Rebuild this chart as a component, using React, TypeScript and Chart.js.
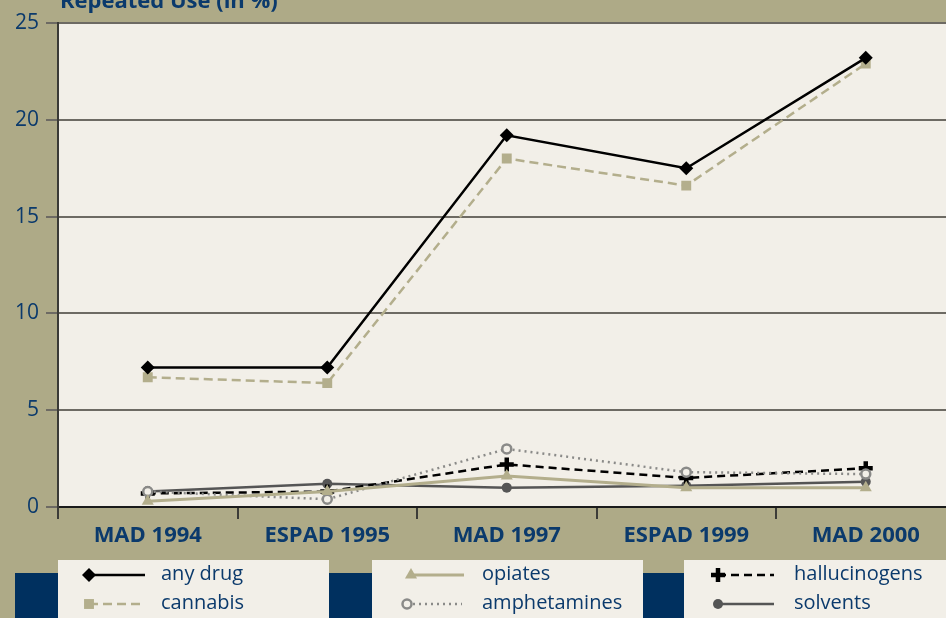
import React, { useEffect, useRef } from 'react';
import { Chart, registerables } from 'chart.js';
import { drawPoint } from 'chart.js/helpers';

Chart.register(...registerables);

const categories = ['MAD 1994', 'ESPAD 1995', 'MAD 1997', 'ESPAD 1999', 'MAD 2000'];
const anyDrug = [7.2, 7.2, 19.2, 17.5, 23.2];
const cannabis = [6.7, 6.4, 18.0, 16.6, 22.9];
const opiates = [0.3, 0.8, 1.6, 1.0, 1.0];
const amphetamines = [0.8, 0.4, 3.0, 1.8, 1.7];
const hallucinogens = [0.7, 0.8, 2.2, 1.5, 2.0];
const solvents = [0.8, 1.2, 1.0, 1.1, 1.3];
const seriesNames = ['any drug', 'cannabis', 'opiates', 'amphetamines', 'hallucinogens', 'solvents'];
const yMin = 0;
const yMax = 25;
const yStep = 5;
const yTitle = 'Repeated Use (in %)';

const NAVY = '#0b3a6c';
const KHAKI = '#aeaa87';
const PLOT_BG = '#f2efe8';
const BLOCK = '#00305f';
const FONT = '"Open Sans", "DejaVu Sans", sans-serif';

const bgPlugin = {
  id: 'bgPlugin',
  beforeDraw(chart: any) {
    const { ctx, chartArea } = chart;
    ctx.save();
    ctx.fillStyle = PLOT_BG;
    ctx.fillRect(chartArea.left, chartArea.top, chartArea.right - chartArea.left, chartArea.bottom - chartArea.top);
    ctx.restore();
  },
  afterDraw(chart: any) {
    const { ctx } = chart;
    ctx.save();
    // title (partially cut at top)
    ctx.font = `bold 22px ${FONT}`;
    ctx.fillStyle = NAVY;
    ctx.textBaseline = 'alphabetic';
    ctx.textAlign = 'left';
    ctx.fillText(yTitle, 60, 8);

    // legend blocks
    ctx.fillStyle = BLOCK;
    ctx.fillRect(15, 573, 43, 45);
    ctx.fillRect(329, 573, 43, 45);
    ctx.fillRect(643, 573, 41, 45);
    ctx.fillStyle = PLOT_BG;
    ctx.fillRect(58, 560, 271, 58);
    ctx.fillRect(372, 560, 271, 58);
    ctx.fillRect(684, 560, 290, 58);

    const layout = [
      { x: 89, y: 575, end: 145, tx: 161 },
      { x: 89, y: 604, end: 145, tx: 161 },
      { x: 411, y: 575, end: 464, tx: 482 },
      { x: 407, y: 604, end: 462, tx: 482 },
      { x: 718, y: 575, end: 774, tx: 794 },
      { x: 718, y: 604, end: 774, tx: 794 },
    ];
    chart.data.datasets.forEach((ds: any, i: number) => {
      const L = layout[i];
      ctx.save();
      ctx.strokeStyle = ds.borderColor;
      ctx.lineWidth = ds.borderWidth;
      ctx.setLineDash(ds.borderDash || []);
      ctx.beginPath();
      ctx.moveTo(L.x, L.y);
      ctx.lineTo(L.end, L.y);
      ctx.stroke();
      ctx.setLineDash([]);
      ctx.fillStyle = ds.pointBackgroundColor;
      ctx.strokeStyle = ds.pointBorderColor;
      ctx.lineWidth = ds.pointBorderWidth;
      drawPoint(ctx, { pointStyle: ds.pointStyle, radius: ds.pointRadius, rotation: 0, borderWidth: ds.pointBorderWidth }, L.x, L.y);
      ctx.restore();
      ctx.fillStyle = NAVY;
      ctx.font = `20px ${FONT}`;
      ctx.textBaseline = 'middle';
      ctx.textAlign = 'left';
      ctx.fillText(ds.label, L.tx, L.y - 1);
    });
    ctx.restore();
  },
};

export default function App() {
  const ref = useRef<HTMLCanvasElement | null>(null);
  useEffect(() => {
    const canvas = ref.current;
    if (!canvas) return;
    const chart = new Chart(canvas, {
      type: 'line',
      data: {
        labels: categories,
        datasets: [
          {
            label: seriesNames[0], data: anyDrug, borderColor: '#000', borderWidth: 2.5,
            pointStyle: 'rectRot', pointRadius: 7, pointBackgroundColor: '#000', pointBorderColor: '#000', pointBorderWidth: 0,
          },
          {
            label: seriesNames[1], data: cannabis, borderColor: '#b3ae8c', borderWidth: 2.5, borderDash: [9, 5],
            pointStyle: 'rect', pointRadius: 7, pointBackgroundColor: '#b3ae8c', pointBorderColor: '#b3ae8c', pointBorderWidth: 0,
          },
          {
            label: seriesNames[2], data: opiates, borderColor: '#b3ae8c', borderWidth: 3,
            pointStyle: 'triangle', pointRadius: 7, pointBackgroundColor: '#b3ae8c', pointBorderColor: '#b3ae8c', pointBorderWidth: 0,
          },
          {
            label: seriesNames[3], data: amphetamines, borderColor: '#8a8a88', borderWidth: 2.5, borderDash: [2, 4],
            pointStyle: 'circle', pointRadius: 4.5, pointBackgroundColor: PLOT_BG, pointBorderColor: '#8a8a88', pointBorderWidth: 2.5,
          },
          {
            label: seriesNames[4], data: hallucinogens, borderColor: '#000', borderWidth: 2.5, borderDash: [8, 5],
            pointStyle: 'cross', pointRadius: 7, pointBackgroundColor: '#000', pointBorderColor: '#000', pointBorderWidth: 4.5,
          },
          {
            label: seriesNames[5], data: solvents, borderColor: '#555555', borderWidth: 2.5,
            pointStyle: 'circle', pointRadius: 5, pointBackgroundColor: '#555555', pointBorderColor: '#555555', pointBorderWidth: 0,
          },
        ],
      },
      options: {
        responsive: false,
        animation: false,
        devicePixelRatio: 1,
        layout: { padding: { top: 23, left: 0, right: 0, bottom: 0 } },
        plugins: { legend: { display: false }, tooltip: { enabled: false } },
        elements: { line: { tension: 0 } },
        scales: {
          x: {
            type: 'category',
            offset: true,
            grid: { offset: true, drawOnChartArea: false, drawTicks: true, tickLength: 12, color: '#3c3c38', lineWidth: 2 },
            border: { display: true, color: '#1a1a1a', width: 2 },
            ticks: { color: NAVY, font: { family: FONT, size: 22, weight: 'bold' }, padding: 4, maxRotation: 0, autoSkip: false },
            afterFit: (s: any) => { s.height = 111; },
          },
          y: {
            min: yMin, max: yMax,
            grid: { color: '#6d6a63', lineWidth: 2, tickLength: 12, drawTicks: true },
            border: { display: true, color: '#3a3a36', width: 2 },
            ticks: { stepSize: yStep, color: NAVY, font: { family: FONT, size: 21 }, padding: 7 },
            afterFit: (s: any) => { s.width = 58; },
          },
        },
      },
      plugins: [bgPlugin],
    } as any);
    return () => chart.destroy();
  }, []);
  return (
    <div style={{ position: 'fixed', left: 0, top: 0, width: 946, height: 618, overflow: 'hidden', background: KHAKI }}>
      <canvas ref={ref} width={967} height={618} style={{ display: 'block', width: 967, height: 618 }} />
    </div>
  );
}
